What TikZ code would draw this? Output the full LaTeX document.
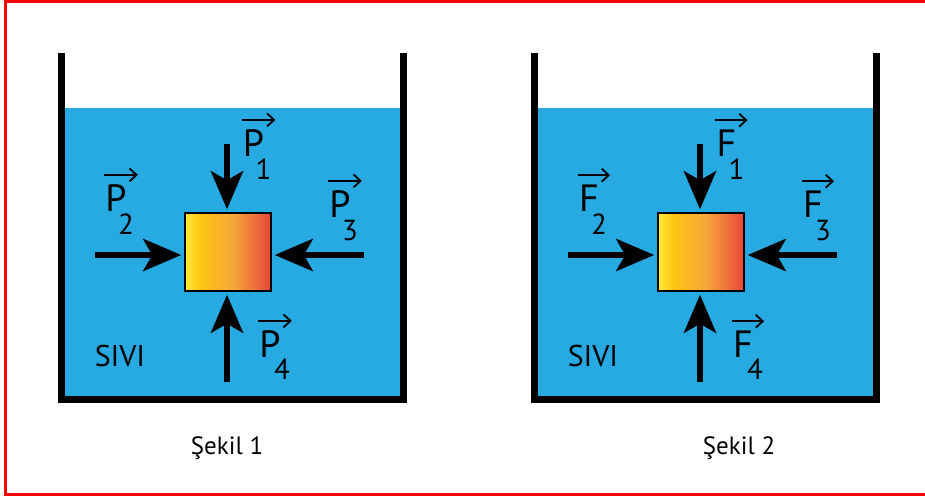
\documentclass[tikz,border=0pt]{standalone}
\usepackage{fontspec}
\setmainfont{PT Sans}
\usetikzlibrary{arrows.meta, math}
\definecolor{water}{HTML}{27A9E1}
\definecolor{frame}{HTML}{FF0000}
\definecolor{cA}{HTML}{FFEA3A}
\definecolor{cB}{HTML}{FDC511}
\definecolor{cC}{HTML}{F6A63C}
\definecolor{cD}{HTML}{E8463A}
\pgfdeclarehorizontalshading{blockfill}{100bp}{color(0bp)=(cA); color(25bp)=(cA); color(34bp)=(cB); color(53bp)=(cC); color(75bp)=(cD); color(100bp)=(cD)}
\tikzset{
wall/.style={line width=7pt, line join=miter},
block/.style={draw, line width=1.5pt, shading=blockfill, minimum width=86pt, minimum height=78pt, inner sep=0pt},
force/.style={line width=6pt, -{Stealth[length=38pt, width=32pt, inset=9pt]}, shorten >=3pt},
vecname/.style={font=\fontsize{38}{38}\selectfont, inner sep=0pt, anchor=base},
subidx/.style={font=\fontsize{29}{29}\selectfont, inner sep=0pt, anchor=base},
vecbar/.style={line width=1.8pt, -{Straight Barb[length=7pt, width=13pt]}},
liquid/.style={font=\fontsize{30}{30}\selectfont, inner sep=0pt, anchor=base},
caption/.style={font=\fontsize{25}{25}\selectfont, inner sep=0pt, anchor=base},
}

\begin{document}
\begin{tikzpicture}[x=1pt, y=1pt]
    \tikzmath{ \shift=473; };  % distance between the two tanks
    \useasboundingbox (0,0) rectangle (925,497);

    % red frame
    \draw[frame, line width=3pt] (925,495.8) -- (5.5,495.8) -- (5.5,2.5) -- (925,2.5);

    %tank 1
    \fill[water] (64.5,101) rectangle (399.5,389.3);
    \draw[wall] (61,444) -- (61,97.5) -- (403,97.5) -- (403,444);
    \node[block] (box1) at (228,245) { };

    \coordinate (t1) at (227,353);
    \coordinate (t2) at (95,242);
    \coordinate (t3) at (364,242);
    \coordinate (t4) at (227,115);

    \draw[force] (t1) -- (t1 |- box1.north);
    \draw[force] (t2) -- (t2 -| box1.west);
    \draw[force] (t3) -- (t3 -| box1.east);
    \draw[force] (t4) -- (t4 |- box1.south);

    \node[vecname] (p1) at (253.5,340) {P};
    \node[vecname] (p2) at (116,285) {P};
    \node[vecname] (p3) at (340,279) {P};
    \node[vecname] (p4) at (270,139) {P};
    \node[subidx] (s1) at ([shift={(10,-22.5)}]p1.base) {1};
    \node[subidx] (s2) at ([shift={(10,-22.5)}]p2.base) {2};
    \node[subidx] (s3) at ([shift={(10,-23)}]p3.base) {3};
    \node[subidx] (s4) at ([shift={(12,-22)}]p4.base) {4};
    \draw[vecbar] ([xshift=-1pt, yshift=10pt]p1.north west) -- ([xshift=11pt, yshift=10pt]p1.north east);
    \draw[vecbar] ([xshift=-1pt, yshift=10pt]p2.north west) -- ([xshift=11pt, yshift=10pt]p2.north east);
    \draw[vecbar] ([xshift=-1pt, yshift=10pt]p3.north west) -- ([xshift=11pt, yshift=10pt]p3.north east);
    \draw[vecbar] ([xshift=-1pt, yshift=10pt]p4.north west) -- ([xshift=11pt, yshift=10pt]p4.north east);

    \node[liquid] (liq1) at (120,130) {SIVI};
    \node[caption] (cap1) at (227,42) {Şekil 1};

    %tank 2
    \fill[water] (64.5+\shift,101) rectangle (399.5+\shift,389.3);
    \draw[wall] (61+\shift,444) -- (61+\shift,97.5) -- (403+\shift,97.5) -- (403+\shift,444);
    \node[block] (box2) at (228+\shift,245) { };

    \coordinate (u1) at (227+\shift,353);
    \coordinate (u2) at (95+\shift,242);
    \coordinate (u3) at (364+\shift,242);
    \coordinate (u4) at (227+\shift,115);

    \draw[force] (u1) -- (u1 |- box2.north);
    \draw[force] (u2) -- (u2 -| box2.west);
    \draw[force] (u3) -- (u3 -| box2.east);
    \draw[force] (u4) -- (u4 |- box2.south);

    \node[vecname] (f1) at (253.5+\shift,340) {F};
    \node[vecname] (f2) at (116+\shift,285) {F};
    \node[vecname] (f3) at (340+\shift,279) {F};
    \node[vecname] (f4) at (270+\shift,139) {F};
    \node[subidx] (r1) at ([shift={(10,-22.5)}]f1.base) {1};
    \node[subidx] (r2) at ([shift={(10,-22.5)}]f2.base) {2};
    \node[subidx] (r3) at ([shift={(10,-23)}]f3.base) {3};
    \node[subidx] (r4) at ([shift={(12,-22)}]f4.base) {4};
    \draw[vecbar] ([xshift=-1pt, yshift=10pt]f1.north west) -- ([xshift=11pt, yshift=10pt]f1.north east);
    \draw[vecbar] ([xshift=-1pt, yshift=10pt]f2.north west) -- ([xshift=11pt, yshift=10pt]f2.north east);
    \draw[vecbar] ([xshift=-1pt, yshift=10pt]f3.north west) -- ([xshift=11pt, yshift=10pt]f3.north east);
    \draw[vecbar] ([xshift=-1pt, yshift=10pt]f4.north west) -- ([xshift=11pt, yshift=10pt]f4.north east);

    \node[liquid] (liq2) at (120+\shift,130) {SIVI};
    \node[caption] (cap2) at (739,42) {Şekil 2};

\end{tikzpicture}
\end{document}
